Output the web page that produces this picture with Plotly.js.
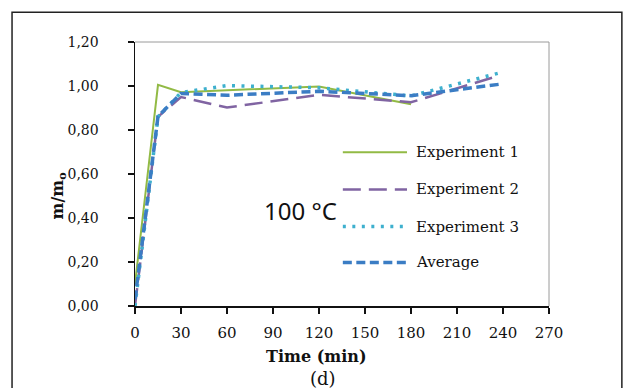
<!DOCTYPE html>
<html>
<head>
<meta charset="utf-8">
<script src="https://cdn.plot.ly/plotly-3.0.1.min.js"></script>
<style>
  html, body { margin: 0; padding: 0; background: #fff; }
  #chart { width: 625px; height: 388px; }
</style>
</head>
<body>
<div id="chart"></div>
<script>
// ---- Data ----
const seriesNames = ["Experiment 1", "Experiment 2", "Experiment 3", "Average"];
const time1 = [0, 15, 30, 60, 120, 180];
const exp1  = [0.10, 1.005, 0.972, 0.980, 0.998, 0.917];
const time2 = [0, 15, 30, 60, 120, 180, 236];
const exp2  = [0.00, 0.86, 0.950, 0.902, 0.960, 0.926, 1.044];
const time3 = [0, 15, 30, 60, 120, 180, 237];
const exp3  = [0.00, 0.86, 0.970, 1.002, 0.992, 0.955, 1.058];
const timeAvg = [0, 15, 30, 60, 120, 180, 240];
const avg     = [0.03, 0.862, 0.966, 0.958, 0.976, 0.956, 1.010];
const xTicks = [0, 30, 60, 90, 120, 150, 180, 210, 240, 270];
const yTicks = [0, 0.2, 0.4, 0.6, 0.8, 1.0, 1.2];

const colors = ["#92BA45", "#8064A2", "#3EB0CE", "#3B7DC4"];
const widths = [2, 2.5, 3.5, 3.5];
const dashes = ["solid", "18px,8px", "3px,6.5px", "9px,4.5px"];

const xs = [time1, time2, time3, timeAvg];
const ys = [exp1, exp2, exp3, avg];

const traces = seriesNames.map((n, i) => ({
  x: xs[i], y: ys[i], name: n, type: "scatter", mode: "lines",
  line: { color: colors[i], width: widths[i], dash: dashes[i] },
  cliponaxis: false
}));

const serif = "DejaVu Serif, Liberation Serif, serif";

// legend (manual, to match reference spacing)
const legY = [0.5826, 0.4413, 0.3011, 0.1648];
const shapes = [
  // outer frame
  { type: "rect", xref: "paper", yref: "paper", x0: -0.297, x1: 1.176, y0: -0.40, y1: 1.113,
    line: { color: "#222", width: 1.5 }, layer: "below" },
  // gray top/right borders of plot area
  { type: "line", xref: "paper", yref: "paper", x0: 0, x1: 1, y0: 1, y1: 1, line: { color: "#9a9a9a", width: 1 } },
  { type: "line", xref: "paper", yref: "paper", x0: 1, x1: 1, y0: 0, y1: 1, line: { color: "#9a9a9a", width: 1 } }
];
const annotations = [];
seriesNames.forEach((n, i) => {
  shapes.push({ type: "line", xref: "paper", yref: "paper", x0: 0.502, x1: 0.657, y0: legY[i], y1: legY[i],
    line: { color: colors[i], width: widths[i], dash: dashes[i] } });
  annotations.push({ xref: "paper", yref: "paper", x: 0.674, y: legY[i], xanchor: "left", yanchor: "middle",
    text: n, showarrow: false, font: { family: serif, size: 15, color: "#111" } });
});
annotations.push(
  { xref: "paper", yref: "paper", x: (300 - 135) / 414, y: (306.5 - 211) / 264, xanchor: "center", yanchor: "middle",
    text: "100 °C", showarrow: false, font: { family: "Noto Sans, Open Sans, sans-serif", size: 24, color: "#111" } },
  { xref: "paper", yref: "paper", x: (316 - 135) / 414, y: (306.5 - 357) / 264, xanchor: "center", yanchor: "middle",
    text: "<b>Time (min)</b>", showarrow: false, font: { family: serif, size: 16, color: "#111" } },
  { xref: "paper", yref: "paper", x: (323 - 135) / 414, y: (306.5 - 379) / 264, xanchor: "center", yanchor: "middle",
    text: "(d)", showarrow: false, font: { family: serif, size: 18, color: "#111" } },
  { xref: "paper", yref: "paper", x: (58 - 135) / 414, y: (306.5 - 196) / 264, xanchor: "center", yanchor: "middle",
    text: "<b>m/m<sub>o</sub></b>", textangle: -90, showarrow: false, font: { family: serif, size: 16, color: "#111" } }
);

const layout = {
  width: 625, height: 388,
  margin: { l: 135, r: 76, t: 42, b: 82, pad: 0 },
  paper_bgcolor: "#fff", plot_bgcolor: "#fff",
  separators: ",.",
  showlegend: false,
  font: { family: serif, size: 15, color: "#111" },
  xaxis: {
    range: [0, 270], tickvals: xTicks, tickformat: "d",
    showgrid: false, zeroline: false, showline: true, linecolor: "#111", linewidth: 1.5,
    ticks: "outside", ticklen: 6, tickwidth: 1.2, tickcolor: "#111",
    ticklabelstandoff: 6, tickfont: { family: serif, size: 15, color: "#111" }, fixedrange: true
  },
  yaxis: {
    range: [0, 1.2], tickvals: yTicks, tickformat: ".2f",
    showgrid: false, zeroline: false, showline: true, linecolor: "#111", linewidth: 1.5,
    ticks: "outside", ticklen: 6, tickwidth: 1.2, tickcolor: "#111",
    ticklabelstandoff: 26, tickfont: { family: serif, size: 14, color: "#111" }, fixedrange: true
  },
  shapes: shapes,
  annotations: annotations
};

Plotly.newPlot("chart", traces, layout, { staticPlot: true, displayModeBar: false });
</script>
</body>
</html>
